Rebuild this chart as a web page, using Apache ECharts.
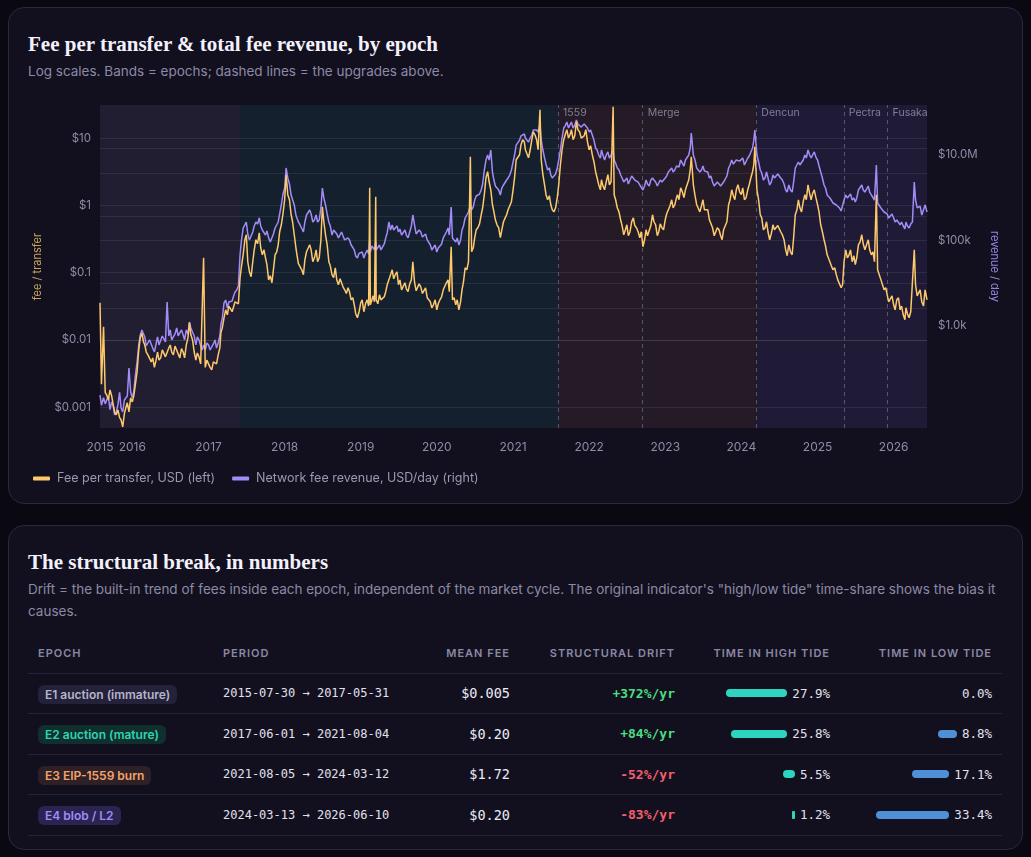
<!DOCTYPE html>
<html><head><meta charset="utf-8">
<script src="https://cdn.jsdelivr.net/npm/echarts@6.0.0/dist/echarts.min.js"></script>
<style>
html,body{margin:0;padding:0;}
body{width:1031px;height:857px;background:#0a0912;position:relative;overflow:hidden;font-family:Inter,'Noto Sans',sans-serif;}
.card{position:absolute;left:8px;width:1015px;background:#12101e;border:1px solid #2a283e;border-radius:16px;box-sizing:border-box;}
#card1{top:7px;height:497px;}
#card2{top:525px;height:325px;}
.title{position:absolute;left:19px;top:24px;margin:0;font-family:'Liberation Serif','DejaVu Serif',serif;font-weight:700;font-size:21px;line-height:24px;color:#f3f1fb;white-space:nowrap;}
.sub{position:absolute;left:19px;margin:0;font-size:13.5px;color:#8c89a6;}
#sub1{top:54px;line-height:18px;white-space:nowrap;}
#sub2{top:52px;line-height:22px;width:980px;}
#chart{position:absolute;left:0;top:88px;width:1031px;height:410px;z-index:2;}
table{position:absolute;left:19px;top:107px;width:974px;border-collapse:collapse;table-layout:fixed;}
th,td{box-sizing:border-box;padding:0 10px;border-bottom:1px solid #25233a;height:40.5px;white-space:nowrap;}
th{height:40px;font-size:11px;font-weight:600;letter-spacing:1px;color:#8b88a5;text-transform:uppercase;}
.l{text-align:left;} .r{text-align:right;}
.badge{display:inline-block;padding:2px 7px;border-radius:6px;font-size:12px;font-weight:600;line-height:15px;}
.mono{font-family:'DejaVu Sans Mono','Liberation Mono',monospace;}
.period{font-size:12px;color:#e2e0ee;}
.fee{font-size:13.5px;color:#ecebf6;}
.drift{font-size:13px;font-weight:600;}
.tide{display:flex;justify-content:flex-end;align-items:center;gap:5px;font-size:12.5px;color:#e2e0ee;}
.bar{display:inline-block;height:8px;border-radius:4px;}
</style>
</head><body>
<div class="card" id="card1">
  <h2 class="title">Fee per transfer &amp; total fee revenue, by epoch</h2>
  <p class="sub" id="sub1">Log scales. Bands = epochs; dashed lines = the upgrades above.</p>
</div>
<div class="card" id="card2">
  <h2 class="title">The structural break, in numbers</h2>
  <p class="sub" id="sub2">Drift = the built-in trend of fees inside each epoch, independent of the market cycle. The original indicator's "high/low tide" time-share shows the bias it causes.</p>
  <table id="tbl">
    <colgroup><col style="width:185px"><col style="width:200px"><col style="width:107px"><col style="width:165px"><col style="width:155px"><col style="width:162px"></colgroup>
    <thead><tr><th class="l">Epoch</th><th class="l">Period</th><th class="r">Mean fee</th><th class="r">Structural drift</th><th class="r">Time in high tide</th><th class="r">Time in low tide</th></tr></thead>
    <tbody id="tbody"></tbody>
  </table>
</div>
<div id="chart"></div>
<script>
// ---------- chart data ----------
const dates = [
'2015-07-30','2015-08-06','2015-08-16','2015-09-01','2015-09-16','2015-10-01','2015-10-16','2015-11-01','2015-11-16','2015-12-01','2015-12-16',
'2016-01-01','2016-01-16','2016-02-01','2016-02-16','2016-03-01','2016-03-16','2016-04-01','2016-04-16','2016-05-01','2016-05-16','2016-06-01','2016-06-16','2016-07-01','2016-07-16','2016-08-01','2016-08-16','2016-09-01','2016-09-16','2016-10-01','2016-10-16','2016-11-01','2016-11-16','2016-12-01','2016-12-08','2016-12-16',
'2017-01-01','2017-01-16','2017-02-01','2017-02-16','2017-03-01','2017-03-16','2017-04-01','2017-04-16','2017-05-01','2017-05-16','2017-06-01','2017-06-16','2017-07-01','2017-07-16','2017-08-01','2017-08-16','2017-09-01','2017-09-16','2017-10-01','2017-10-16','2017-11-01','2017-11-16','2017-12-01','2017-12-16',
'2018-01-01','2018-01-08','2018-01-16','2018-02-01','2018-02-16','2018-03-01','2018-03-16','2018-04-01','2018-04-16','2018-05-01','2018-05-16','2018-06-01','2018-06-16','2018-07-01','2018-07-16','2018-08-01','2018-08-16','2018-09-01','2018-09-16','2018-10-01','2018-10-16','2018-11-01','2018-11-16','2018-12-01','2018-12-16',
'2019-01-01','2019-01-16','2019-02-01','2019-02-13','2019-02-16','2019-03-01','2019-03-14','2019-03-16','2019-04-01','2019-04-16','2019-05-01','2019-05-16','2019-06-01','2019-06-16','2019-07-01','2019-07-16','2019-08-01','2019-08-16','2019-09-01','2019-09-08','2019-09-16','2019-10-01','2019-10-16','2019-11-01','2019-11-16','2019-12-01','2019-12-16',
'2020-01-01','2020-01-16','2020-02-01','2020-02-16','2020-03-01','2020-03-10','2020-03-16','2020-04-01','2020-04-16','2020-05-01','2020-05-16','2020-06-01','2020-06-10','2020-06-16','2020-07-01','2020-07-16','2020-08-01','2020-08-16','2020-09-01','2020-09-16','2020-10-01','2020-10-16','2020-11-01','2020-11-16','2020-12-01','2020-12-16',
'2021-01-01','2021-01-16','2021-02-01','2021-02-16','2021-03-01','2021-03-16','2021-04-01','2021-04-16','2021-05-01','2021-05-10','2021-05-16','2021-06-01','2021-06-16','2021-07-01','2021-07-16','2021-08-01','2021-08-16','2021-09-01','2021-09-16','2021-10-01','2021-10-16','2021-11-01','2021-11-16','2021-12-01','2021-12-16',
'2022-01-01','2022-01-16','2022-02-01','2022-02-16','2022-03-01','2022-03-16','2022-04-01','2022-04-16','2022-04-26','2022-05-01','2022-05-16','2022-06-01','2022-06-16','2022-07-01','2022-07-16','2022-08-01','2022-08-16','2022-09-01','2022-09-16','2022-10-01','2022-10-16','2022-11-01','2022-11-16','2022-12-01','2022-12-16',
'2023-01-01','2023-01-16','2023-02-01','2023-02-16','2023-03-01','2023-03-16','2023-04-01','2023-04-16','2023-05-01','2023-05-06','2023-05-16','2023-06-01','2023-06-16','2023-07-01','2023-07-16','2023-08-01','2023-08-16','2023-09-01','2023-09-16','2023-10-01','2023-10-16','2023-11-01','2023-11-16','2023-12-01','2023-12-16',
'2024-01-01','2024-01-16','2024-02-01','2024-02-16','2024-03-01','2024-03-06','2024-03-16','2024-04-01','2024-04-16','2024-05-01','2024-05-16','2024-06-01','2024-06-16','2024-07-01','2024-07-16','2024-08-01','2024-08-16','2024-09-01','2024-09-16','2024-10-01','2024-10-16','2024-11-01','2024-11-16','2024-12-01','2024-12-16',
'2025-01-01','2025-01-16','2025-02-01','2025-02-16','2025-03-01','2025-03-16','2025-04-01','2025-04-16','2025-05-01','2025-05-16','2025-06-01','2025-06-16','2025-07-01','2025-07-16','2025-08-01','2025-08-16','2025-09-01','2025-09-16','2025-10-01','2025-10-10','2025-10-16','2025-11-01','2025-11-16','2025-12-01','2025-12-16',
'2026-01-01','2026-01-16','2026-02-01','2026-02-16','2026-03-01','2026-03-16','2026-04-01','2026-04-10','2026-04-16','2026-05-01','2026-05-16','2026-06-01','2026-06-10'
];
const feeUSD = [
0.0356,0.0022,0.0156,0.0015,0.0018,0.0011,0.00077,0.0007,0.00051,0.00098,0.00085,
0.0012,0.0022,0.0071,0.0127,0.0084,0.006,0.0047,0.0039,0.0066,0.0054,0.0071,0.0058,0.0084,0.006,0.0076,0.0054,0.0066,0.0084,0.018,0.01,0.005,0.0056,0.0043,0.166,0.0039,
0.0047,0.0036,0.005,0.006,0.0127,0.0213,0.0236,0.0332,0.028,0.0394,0.084,0.184,0.365,0.103,0.145,0.308,0.39,0.184,0.166,0.078,0.0706,0.184,0.259,0.514,
1.21,2.85,1.44,0.724,0.365,0.184,0.145,0.093,0.204,0.259,0.145,0.218,0.166,0.95,0.365,0.145,0.093,0.118,0.066,0.084,0.0555,0.0595,0.0394,0.0332,0.0213,
0.0356,0.0262,0.0394,1.82,0.0332,0.0452,1.34,0.0394,0.0468,0.0368,0.052,0.078,0.11,0.093,0.066,0.0555,0.0706,0.052,0.078,0.145,0.073,0.0555,0.0615,0.052,0.0423,0.0368,0.0332,
0.028,0.0394,0.0555,0.0706,0.052,0.242,0.0394,0.0332,0.028,0.0555,0.118,0.145,5.28,0.204,0.33,0.464,0.724,1.44,3.16,1.70,0.80,0.514,0.33,0.57,0.724,0.86,
1.70,4.76,5.65,9.44,6.70,5.10,9.44,11.2,6.70,26.4,4.76,2.02,1.21,1.02,0.80,1.30,4.01,9.44,13.3,11.2,9.44,17.5,12.4,9.44,13.3,
6.70,5.65,3.16,2.02,2.40,1.70,2.85,2.24,29.2,1.44,0.92,0.61,0.365,0.514,0.405,0.65,0.464,0.33,0.242,0.433,0.33,0.724,0.514,0.405,0.464,
0.61,0.86,1.21,1.02,1.44,1.82,1.30,2.02,3.38,5.28,2.02,1.02,0.80,1.21,0.92,0.61,0.464,0.365,0.433,0.308,0.405,1.02,1.70,1.21,2.02,
1.44,1.21,1.70,2.57,4.01,7.43,1.70,0.724,0.433,0.57,0.308,0.514,0.405,0.514,0.365,0.218,0.259,0.184,0.724,1.21,0.80,1.44,2.02,1.21,1.70,
1.02,0.514,0.308,0.184,0.145,0.11,0.093,0.073,0.066,0.218,0.184,0.145,0.131,0.259,0.365,0.218,0.308,0.184,0.145,1.44,0.11,0.078,0.0555,0.0468,0.0394,
0.0332,0.0394,0.028,0.0236,0.030,0.0213,0.028,0.218,0.066,0.0468,0.0368,0.0555,0.0394
];
const revenueUSD = [
24,14,21,19,11,14,9.7,28,9.7,17,104,
21,72,360,806,553,360,423,247,553,360,616,3640,806,471,900,553,616,806,1240,724,360,471,275,360,275,
360,247,471,401,1055,3450,2640,4050,5030,6950,45800,196000,271000,103000,158000,271000,336000,176000,134000,115000,103000,196000,271000,677000,
1690000,4970000,2900000,1160000,677000,336000,231000,158000,395000,517000,271000,395000,302000,1690000,677000,271000,134000,196000,115000,158000,103000,115000,78500,60000,39000,
45800,39000,60000,103000,53800,78500,92500,60000,78500,66800,115000,271000,231000,196000,158000,134000,176000,115000,219000,395000,231000,134000,158000,115000,103000,78500,66800,
53800,74400,115000,158000,134000,610000,115000,92500,78500,176000,336000,464000,677000,517000,886000,1160000,1520000,4460000,10000000,13100000,2600000,1690000,1160000,1990000,2600000,3400000,
6860000,17100000,22400000,29400000,25000000,20000000,29400000,42800000,34500000,50300000,22400000,8500000,4460000,3400000,2900000,4970000,13100000,42800000,59000000,50300000,42800000,65900000,53000000,42800000,59000000,
34500000,29400000,14600000,10000000,13100000,7640000,11800000,10000000,13100000,7640000,4970000,3400000,2330000,2900000,2330000,3400000,2600000,1990000,1520000,2600000,1880000,2900000,2330000,1990000,2330000,
2900000,4000000,4970000,4460000,5830000,7640000,5530000,8500000,14600000,32800000,10000000,4970000,4000000,5530000,4460000,2900000,2330000,1880000,2210000,1690000,2330000,4970000,7640000,5830000,8500000,
6860000,5830000,8500000,11800000,22400000,38500000,10000000,4460000,2600000,4000000,1990000,3400000,2900000,3400000,2600000,1520000,1990000,1360000,4970000,6860000,5830000,10000000,13100000,8500000,11800000,
7640000,4000000,1990000,1160000,990000,754000,677000,577000,517000,1160000,1100000,886000,795000,1520000,1990000,1360000,1880000,1160000,886000,5830000,754000,577000,464000,417000,355000,
336000,302000,231000,219000,271000,196000,271000,2330000,886000,577000,395000,677000,464000
];
// in-between readings (days 8 and 24), the day-to-day wobble of the band
const midDates = [
'2015-08-24','2015-09-08','2015-09-24','2015-10-08','2015-10-24','2015-11-08','2015-11-24','2015-12-08','2015-12-24',
'2016-01-08','2016-01-24','2016-02-08','2016-02-24','2016-03-08','2016-03-24','2016-04-08','2016-04-24','2016-05-08','2016-05-24','2016-06-08','2016-06-24','2016-07-08','2016-07-24','2016-08-08','2016-08-24','2016-09-08','2016-09-24','2016-10-08','2016-10-24','2016-11-08','2016-11-24','2016-12-24',
'2017-01-08','2017-01-24','2017-02-08','2017-02-24','2017-03-08','2017-03-24','2017-04-08','2017-04-24','2017-05-08','2017-05-24','2017-06-08','2017-06-24','2017-07-08','2017-07-24','2017-08-08','2017-08-24','2017-09-08','2017-09-24','2017-10-08','2017-10-24','2017-11-08','2017-11-24','2017-12-08','2017-12-24',
'2018-01-24','2018-02-08','2018-02-24','2018-03-08','2018-03-24','2018-04-08','2018-04-24','2018-05-08','2018-05-24','2018-06-08','2018-06-24','2018-07-08','2018-07-24','2018-08-08','2018-08-24','2018-09-08','2018-09-24','2018-10-08','2018-10-24','2018-11-08','2018-11-24','2018-12-08','2018-12-24',
'2019-01-08','2019-01-24','2019-02-08','2019-02-24','2019-03-08','2019-03-24','2019-04-08','2019-04-24','2019-05-08','2019-05-24','2019-06-08','2019-06-24','2019-07-08','2019-07-24','2019-08-08','2019-08-24','2019-09-24','2019-10-08','2019-10-24','2019-11-08','2019-11-24','2019-12-08','2019-12-24',
'2020-01-08','2020-01-24','2020-02-08','2020-02-24','2020-03-24','2020-04-08','2020-04-24','2020-05-08','2020-05-24','2020-06-24','2020-07-08','2020-07-24','2020-08-08','2020-08-24','2020-09-08','2020-09-24','2020-10-08','2020-10-24','2020-11-08','2020-11-24','2020-12-08','2020-12-24',
'2021-01-08','2021-01-24','2021-02-08','2021-02-24','2021-03-08','2021-03-24','2021-04-08','2021-04-24','2021-05-24','2021-06-08','2021-06-24','2021-07-08','2021-07-24','2021-08-08','2021-08-24','2021-09-08','2021-09-24','2021-10-08','2021-10-24','2021-11-08','2021-11-24','2021-12-08','2021-12-24',
'2022-01-08','2022-01-24','2022-02-08','2022-02-24','2022-03-08','2022-03-24','2022-04-08','2022-05-08','2022-05-24','2022-06-08','2022-06-24','2022-07-08','2022-07-24','2022-08-08','2022-08-24','2022-09-08','2022-09-24','2022-10-08','2022-10-24','2022-11-08','2022-11-24','2022-12-08','2022-12-24',
'2023-01-08','2023-01-24','2023-02-08','2023-02-24','2023-03-08','2023-03-24','2023-04-08','2023-04-24','2023-05-24','2023-06-08','2023-06-24','2023-07-08','2023-07-24','2023-08-08','2023-08-24','2023-09-08','2023-09-24','2023-10-08','2023-10-24','2023-11-08','2023-11-24','2023-12-08','2023-12-24',
'2024-01-08','2024-01-24','2024-02-08','2024-02-24','2024-03-24','2024-04-08','2024-04-24','2024-05-08','2024-05-24','2024-06-08','2024-06-24','2024-07-08','2024-07-24','2024-08-08','2024-08-24','2024-09-08','2024-09-24','2024-10-08','2024-10-24','2024-11-08','2024-11-24','2024-12-08','2024-12-24',
'2025-01-08','2025-01-24','2025-02-08','2025-02-24','2025-03-08','2025-03-24','2025-04-08','2025-04-24','2025-05-08','2025-05-24','2025-06-08','2025-06-24','2025-07-08','2025-07-24','2025-08-08','2025-08-24','2025-09-08','2025-09-24','2025-10-24','2025-11-08','2025-11-24','2025-12-08','2025-12-24',
'2026-01-08','2026-01-24','2026-02-08','2026-02-24','2026-03-08','2026-03-24','2026-04-24','2026-05-08','2026-05-24'
];
const midFeeUSD = [
0.00166,0.00128,0.00147,0.00085,0.00091,0.00065,0.0008,0.00116,0.00137,
0.00147,0.0034,0.0107,0.0093,0.0066,0.006,0.0054,0.005,0.005,0.0071,0.0056,0.0076,0.0066,0.0081,0.0062,0.0074,0.0054,0.0107,0.0119,0.0066,0.0064,0.0044,0.005,
0.0039,0.0047,0.0044,0.0076,0.0152,0.028,0.0318,0.0262,0.0368,0.0344,0.126,0.308,0.145,0.087,0.218,0.268,0.234,0.218,0.131,0.09,0.11,0.204,0.405,0.75,
1.21,0.57,0.234,0.136,0.11,0.155,0.204,0.218,0.166,0.145,0.308,0.57,0.259,0.126,0.084,0.078,0.081,0.0615,0.049,0.052,0.0423,0.0245,0.0262,
0.0394,0.0344,0.0318,0.0394,0.0368,0.0344,0.0394,0.0437,0.066,0.073,0.081,0.103,0.078,0.052,0.0575,0.068,0.0537,0.068,0.049,0.0595,0.0452,0.030,0.0394,
0.0344,0.0437,0.052,0.078,0.0423,0.0394,0.0368,0.073,0.11,0.234,0.433,0.53,0.92,2.57,2.24,1.02,0.61,0.464,0.433,0.65,0.86,1.13,
2.57,4.45,7.96,8.8,6.26,6.7,12.4,9.44,2.85,1.44,1.39,0.86,0.92,2.02,6.7,11.2,10.0,13.3,10.8,13.3,10.0,10.8,8.8,
7.7,4.45,2.57,1.70,1.95,2.24,2.02,1.21,0.80,0.50,0.433,0.353,0.57,0.50,0.405,0.405,0.308,0.353,0.50,0.57,0.353,0.53,0.433,
0.75,0.985,0.92,1.30,1.21,1.59,1.70,2.40,1.39,0.985,0.985,0.86,0.86,0.65,0.353,0.464,0.353,0.433,0.57,1.21,1.39,1.70,1.59,
1.82,1.30,2.02,3.16,1.21,0.65,0.464,0.405,0.38,0.433,0.50,0.405,0.308,0.178,0.204,0.33,0.86,0.92,1.13,1.21,1.49,1.49,1.30,
0.80,0.405,0.25,0.178,0.126,0.118,0.078,0.0595,0.145,0.166,0.218,0.178,0.166,0.287,0.268,0.204,0.218,0.204,0.103,0.073,0.0595,0.0368,0.0452,
0.028,0.0423,0.0318,0.0199,0.0245,0.0262,0.0452,0.0555,0.0318
];
const midRevenueUSD = [
15,23,16.7,8.3,14.2,12.1,18.6,23,28.5,
28.5,144,616,724,340,471,305,379,360,583,423,583,471,650,583,806,471,650,900,583,553,340,401,
275,380,305,583,1540,4050,3640,3840,6230,8630,103000,231000,142000,128000,219000,243000,219000,196000,167000,92500,142000,208000,417000,1220000,
2100000,1100000,395000,271000,219000,271000,375000,417000,302000,271000,577000,990000,417000,219000,176000,142000,128000,128000,92500,103000,83000,43500,50000,
53800,50000,48000,74400,60000,66800,60000,83000,150000,176000,176000,219000,186000,128000,134000,158000,142000,176000,121000,142000,103000,60000,78500,
66800,83000,109000,196000,128000,115000,103000,219000,318000,610000,1100000,1220000,2100000,7640000,7640000,4000000,1880000,1520000,1690000,2100000,2900000,4460000,
1.0e7,1.8e7,2.8e7,3.1e7,2.24e7,2.5e7,3.85e7,3.85e7,1.31e7,6.1e6,4.97e6,2.9e6,3.6e6,7.64e6,2.5e7,4.8e7,4.28e7,5.9e7,5.03e7,5.3e7,4.5e7,5.3e7,4.28e7,
3.85e7,2.24e7,1.31e7,8.5e6,1.0e7,1.0e7,8.5e6,6.5e6,4.46e6,2.9e6,2.33e6,2.1e6,3.23e6,2.6e6,2.33e6,2.1e6,1.88e6,2.1e6,2.6e6,2.6e6,1.88e6,2.6e6,2.21e6,
3.23e6,4.46e6,4.0e6,5.53e6,5.25e6,6.86e6,7.64e6,1.0e7,7.64e6,4.97e6,4.46e6,4.22e6,4.0e6,3.23e6,1.88e6,2.33e6,1.88e6,2.33e6,3.23e6,5.83e6,6.1e6,7.64e6,7.2e6,
8.5e6,6.1e6,9.5e6,1.46e7,6.86e6,3.8e6,2.9e6,2.9e6,2.33e6,2.9e6,3.6e6,2.9e6,2.1e6,1.36e6,1.52e6,2.33e6,5.53e6,5.83e6,7.64e6,8.5e6,1.0e7,1.0e7,8.97e6,
5.53e6,2.9e6,1.69e6,1.22e6,9.9e5,7.95e5,6.4e5,4.9e5,8.86e5,9.9e5,1.22e6,9.9e5,9.9e5,1.69e6,1.52e6,1.36e6,1.36e6,1.22e6,7.1e5,5.77e5,4.9e5,3.36e5,4.17e5,
2.71e5,3.18e5,2.71e5,1.86e5,2.19e5,2.43e5,5.77e5,6.4e5,3.75e5
];
const epochStart = ['2015-07-30','2017-06-01','2021-08-05','2024-03-13'];
const epochEnd   = ['2017-05-31','2021-08-04','2024-03-12','2026-06-10'];
const epochBandColors = ['#211e32','#15202f','#241b26','#1f1b36'];
const upgradeNames = ['1559','Merge','Dencun','Pectra','Fusaka'];
const upgradeDates = ['2021-08-05','2022-09-15','2024-03-13','2025-05-07','2025-12-03'];
const xTickDates = ['2015-07-30','2016-01-01','2017-01-01','2018-01-01','2019-01-01','2020-01-01','2021-01-01','2022-01-01','2023-01-01','2024-01-01','2025-01-01','2026-01-01'];
const feeTicks = [0.001,0.01,0.1,1,10];
const feeMinorGrid = [7,3,0.7,0.3,0.07,0.03,0.007,0.003,0.0007];
const revenueTicks = [1e3,1e5,1e7];
const feeRange = [0.00049,31];
const revenueRange = [4.1,1.48e8];

// ---------- table data ----------
const epochNames = ['E1 auction (immature)','E2 auction (mature)','E3 EIP-1559 burn','E4 blob / L2'];
const badgeBg = ['#24223a','#10302e','#2e2027','#2a2451'];
const badgeFg = ['#b6b4ca','#2fd3b4','#f2a36b','#a08bf6'];
const meanFee = [0.005,0.20,1.72,0.20];
const driftPctYr = [372,84,-52,-83];
const highTidePct = [27.9,25.8,5.5,1.2];
const lowTidePct = [0.0,8.8,17.1,33.4];

// ---------- build table ----------
function parseD(s){const p=s.split('-').map(Number);return new Date(p[0],p[1]-1,p[2]).getTime();}
const tb = document.getElementById('tbody');
const pxPerPct = 2.19;
epochNames.forEach((name,i)=>{
  const tr=document.createElement('tr');
  const fee = meanFee[i] < 0.01 ? meanFee[i].toFixed(3) : meanFee[i].toFixed(2);
  const d = driftPctYr[i];
  const bar=(v,c)=> v>0 ? `<span class="bar" style="width:${Math.max(2,v*pxPerPct).toFixed(1)}px;background:${c};${v<2?'border-radius:1px;':''}"></span>` : '';
  tr.innerHTML =
    `<td class="l"><span class="badge" style="background:${badgeBg[i]};color:${badgeFg[i]}">${name}</span></td>`+
    `<td class="l mono period">${epochStart[i]} → ${epochEnd[i]}</td>`+
    `<td class="r mono fee">$${fee}</td>`+
    `<td class="r mono drift" style="color:${d>0?'#4ade80':'#f25f6d'}">${d>0?'+':''}${d}%/yr</td>`+
    `<td class="r"><div class="tide mono">${bar(highTidePct[i],'#2dd4bf')}<span>${highTidePct[i].toFixed(1)}%</span></div></td>`+
    `<td class="r"><div class="tide mono">${bar(lowTidePct[i],'#4f8fd6')}<span>${lowTidePct[i].toFixed(1)}%</span></div></td>`;
  tb.appendChild(tr);
});

// ---------- chart ----------
const feeName='Fee per transfer, USD (left)';
const revName='Network fee revenue, USD/day (right)';
const points = dates.map((d,i)=>({t:parseD(d),f:feeUSD[i],r:revenueUSD[i]}))
  .concat(midDates.map((d,i)=>({t:parseD(d),f:midFeeUSD[i],r:midRevenueUSD[i]})))
  .sort((a,b)=>a.t-b.t);
const feeSeries = points.map(p=>[p.t,p.f]);
const revSeries = points.map(p=>[p.t,p.r]);
const axisText = '#8e8ca6';
const gridColor = 'rgba(255,255,255,0.075)';
function fmtRev(v){
  if(v>=1e6) return '$'+(v/1e6).toFixed(1)+'M';
  if(v>=1e3){const k=v/1e3; return '$'+(k>=10?k.toFixed(0):k.toFixed(1))+'k';}
  return '$'+v;
}
const chart = echarts.init(document.getElementById('chart'), null, {renderer:'canvas'});
chart.setOption({
  animation:false,
  backgroundColor:'transparent',
  textStyle:{fontFamily:'Inter, sans-serif'},
  grid:{left:100,right:104,top:17,bottom:70,containLabel:false,outerBoundsMode:'none'},
  legend:{
    left:28, top:379, icon:'roundRect', itemWidth:17, itemHeight:4, itemGap:17,
    data:[feeName,revName],
    textStyle:{color:'#9a98b2',fontSize:12.5,padding:[0,0,0,2]}
  },
  xAxis:{
    type:'value', min:parseD(dates[0]), max:parseD(dates[dates.length-1]),
    axisLine:{show:false}, axisTick:{show:false}, splitLine:{show:false},
    axisLabel:{color:axisText,fontSize:12,margin:13,
      customValues:xTickDates.map(parseD),
      formatter:(v)=>String(new Date(v).getFullYear())}
  },
  yAxis:[
    {type:'log', logBase:10, min:feeRange[0], max:feeRange[1], z:1.5,
     name:'fee / transfer', nameLocation:'middle', nameGap:50, nameRotate:90,
     nameTextStyle:{color:'#c9a55c',fontSize:11},
     axisLine:{show:false}, axisTick:{show:false},
     splitLine:{show:true,showMinLine:false,showMaxLine:false,lineStyle:{color:gridColor,width:1}},
     axisLabel:{color:axisText,fontSize:11.5,margin:9,customValues:feeTicks,formatter:(v)=>'$'+v}
    },
    {type:'log', logBase:10, min:revenueRange[0], max:revenueRange[1], position:'right', z:1.5,
     name:'revenue / day', nameLocation:'middle', nameGap:47, nameRotate:-90,
     nameTextStyle:{color:'#9683e0',fontSize:11},
     axisLine:{show:false}, axisTick:{show:false}, splitLine:{show:false},
     axisLabel:{color:axisText,fontSize:11.5,margin:11,customValues:revenueTicks,formatter:fmtRev}
    }
  ],
  series:[
    {name:'bands', type:'line', data:[], yAxisIndex:0, silent:true, z:1,
     markArea:{silent:true, z:1,
       data:epochStart.map((s,i)=>[{xAxis:parseD(s),itemStyle:{color:epochBandColors[i],opacity:1}},{xAxis:parseD(i<3?epochStart[i+1]:epochEnd[i])}])}
    },
    {name:'grid', type:'line', data:[], yAxisIndex:0, silent:true, z:1.6,
     markLine:{silent:true, z:1.6, symbol:['none','none'], label:{show:false},
       lineStyle:{color:gridColor,type:'solid',width:1},
       emphasis:{disabled:true},
       data:feeMinorGrid.map(v=>({yAxis:v}))}
    },
    {name:'upgrades', type:'line', data:[], yAxisIndex:0, silent:true, z:1.7,
     markLine:{silent:true, z:1.7, symbol:['none','none'], label:{show:false},
       lineStyle:{color:'#57556f',type:[4,4],width:1},
       emphasis:{disabled:true},
       data:upgradeDates.map(d=>({xAxis:parseD(d)}))}
    },
    {name:revName, type:'line', yAxisIndex:1, data:revSeries, showSymbol:false, symbol:'none',
     color:'#a38cf8', lineStyle:{width:1.5,color:'#a38cf8'}, z:2},
    {name:feeName, type:'line', yAxisIndex:0, data:feeSeries, showSymbol:false, symbol:'none',
     color:'#fdc96c', lineStyle:{width:1.5,color:'#fdc96c'}, z:3},
    {name:'upgradeLabels', type:'scatter', yAxisIndex:0, symbolSize:0, silent:true, z:4, clip:false,
     data:upgradeDates.map((d,i)=>({name:upgradeNames[i],value:[parseD(d),feeRange[1]]})),
     label:{show:true, position:'right', distance:5, offset:[0,8], formatter:(p)=>p.name, color:'#9896b0', fontSize:10.5}
    }
  ]
});
</script>
</body></html>
